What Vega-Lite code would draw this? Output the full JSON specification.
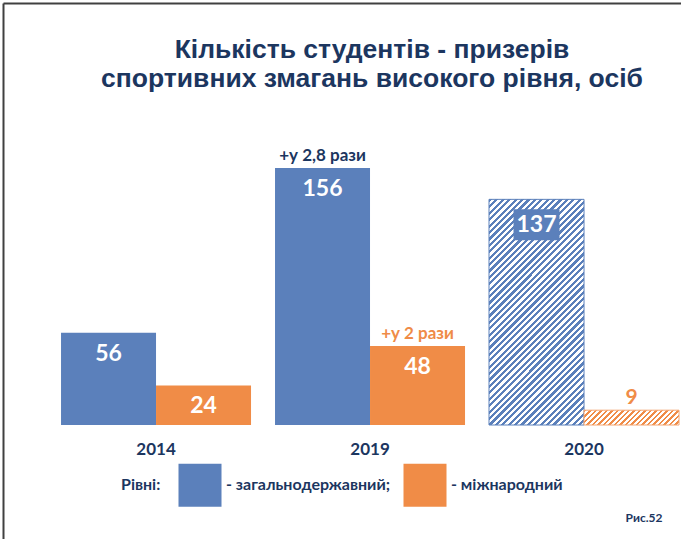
{
  "$schema": "https://vega.github.io/schema/vega-lite/v6.json",
  "width": 678,
  "height": 536,
  "autosize": {"type": "none"},
  "padding": {"left": 3, "top": 3, "right": 0, "bottom": 0},
  "background": "white",
  "config": {"view": {"stroke": null}, "axis": {"grid": false}, "font": "Lato"},
  "title": {
    "text": ["Кількість студентів  - призерів", "спортивних змагань високого рівня, осіб"],
    "font": "Liberation Sans Narrow, Arial Narrow, Liberation Sans",
    "fontSize": 26.5,
    "fontWeight": "bold",
    "color": "#1c365f",
    "anchor": "middle",
    "frame": "group",
    "dx": 30,
    "offset": -89,
    "lineHeight": 29
  },
  "data": {
    "values": [
      {"year": "2014", "level": "загальнодержавний", "value": 56, "note": ""},
      {"year": "2014", "level": "міжнародний", "value": 24, "note": ""},
      {"year": "2019", "level": "загальнодержавний", "value": 156, "note": "+у 2,8 рази"},
      {"year": "2019", "level": "міжнародний", "value": 48, "note": "+у 2 рази"},
      {"year": "2020", "level": "загальнодержавний", "value": 137, "note": ""},
      {"year": "2020", "level": "міжнародний", "value": 9, "note": ""}
    ]
  },
  "resolve": {"axis": {"x": "independent"}},
  "layer": [
    {
      "transform": [{"filter": "datum.year != '2020'"}],
      "mark": {"type": "bar"},
      "encoding": {
        "x": {
          "field": "year", "type": "nominal",
          "scale": {"domain": ["2014", "2019", "2020"], "paddingInner": 0.1121, "paddingOuter": 0.1402, "align": 0.967},
          "axis": {"orient": "top", "labels": false, "ticks": false, "title": null, "domain": true, "domainColor": "#404040", "domainWidth": 2}
        },
        "xOffset": {"field": "level", "type": "nominal"},
        "y": {
          "field": "value", "type": "quantitative",
          "scale": {"domain": [-69.2, 256.2], "nice": false},
          "axis": {"labels": false, "ticks": false, "title": null, "grid": false, "domain": true, "domainColor": "#404040", "domainWidth": 2}
        },
        "color": {
          "field": "level", "type": "nominal",
          "scale": {"domain": ["загальнодержавний", "міжнародний"], "range": ["#5b80bb", "#f08c47"]},
          "legend": {
            "orient": "none", "legendX": 118, "legendY": 460,
            "direction": "horizontal",
            "title": "Рівні:", "titleOrient": "left", "titleFont": "Lato", "titleFontSize": 16,
            "titleFontWeight": "bold", "titleColor": "#1c365f", "titlePadding": 17, "titleBaseline": "middle",
            "symbolType": "square", "symbolSize": 1850, "symbolStrokeWidth": 0, "symbolOpacity": 1,
            "labelFont": "Lato", "labelFontSize": 16, "labelFontWeight": "bold", "labelColor": "#1c365f",
            "labelOffset": 4, "columnPadding": 12, "labelLimit": 300,
            "labelExpr": "datum.value == 'загальнодержавний' ? '- загальнодержавний;' : '- міжнародний'"
          }
        }
      }
    },
    {
      "transform": [{"filter": "datum.year == '2020' && datum.level == 'загальнодержавний'"}],
      "mark": {
        "type": "bar", "stroke": "#5b80bb", "strokeWidth": 1,
        "fill": {
          "gradient": "linear", "x1": 0, "y1": 0, "x2": 0.5083, "y2": 1.207,
          "stops": [
            {"offset": 0, "color": "#5b80bb"},
            {"offset": 0.01, "color": "#5b80bb"}, {"offset": 0.01, "color": "#fff"},
            {"offset": 0.02, "color": "#fff"}, {"offset": 0.02, "color": "#5b80bb"},
            {"offset": 0.03, "color": "#5b80bb"}, {"offset": 0.03, "color": "#fff"},
            {"offset": 0.04, "color": "#fff"}, {"offset": 0.04, "color": "#5b80bb"},
            {"offset": 0.05, "color": "#5b80bb"}, {"offset": 0.05, "color": "#fff"},
            {"offset": 0.06, "color": "#fff"}, {"offset": 0.06, "color": "#5b80bb"},
            {"offset": 0.07, "color": "#5b80bb"}, {"offset": 0.07, "color": "#fff"},
            {"offset": 0.08, "color": "#fff"}, {"offset": 0.08, "color": "#5b80bb"},
            {"offset": 0.09, "color": "#5b80bb"}, {"offset": 0.09, "color": "#fff"},
            {"offset": 0.10, "color": "#fff"}, {"offset": 0.10, "color": "#5b80bb"},
            {"offset": 0.11, "color": "#5b80bb"}, {"offset": 0.11, "color": "#fff"},
            {"offset": 0.12, "color": "#fff"}, {"offset": 0.12, "color": "#5b80bb"},
            {"offset": 0.13, "color": "#5b80bb"}, {"offset": 0.13, "color": "#fff"},
            {"offset": 0.14, "color": "#fff"}, {"offset": 0.14, "color": "#5b80bb"},
            {"offset": 0.15, "color": "#5b80bb"}, {"offset": 0.15, "color": "#fff"},
            {"offset": 0.16, "color": "#fff"}, {"offset": 0.16, "color": "#5b80bb"},
            {"offset": 0.17, "color": "#5b80bb"}, {"offset": 0.17, "color": "#fff"},
            {"offset": 0.18, "color": "#fff"}, {"offset": 0.18, "color": "#5b80bb"},
            {"offset": 0.19, "color": "#5b80bb"}, {"offset": 0.19, "color": "#fff"},
            {"offset": 0.20, "color": "#fff"}, {"offset": 0.20, "color": "#5b80bb"},
            {"offset": 0.21, "color": "#5b80bb"}, {"offset": 0.21, "color": "#fff"},
            {"offset": 0.22, "color": "#fff"}, {"offset": 0.22, "color": "#5b80bb"},
            {"offset": 0.23, "color": "#5b80bb"}, {"offset": 0.23, "color": "#fff"},
            {"offset": 0.24, "color": "#fff"}, {"offset": 0.24, "color": "#5b80bb"},
            {"offset": 0.25, "color": "#5b80bb"}, {"offset": 0.25, "color": "#fff"},
            {"offset": 0.26, "color": "#fff"}, {"offset": 0.26, "color": "#5b80bb"},
            {"offset": 0.27, "color": "#5b80bb"}, {"offset": 0.27, "color": "#fff"},
            {"offset": 0.28, "color": "#fff"}, {"offset": 0.28, "color": "#5b80bb"},
            {"offset": 0.29, "color": "#5b80bb"}, {"offset": 0.29, "color": "#fff"},
            {"offset": 0.30, "color": "#fff"}, {"offset": 0.30, "color": "#5b80bb"},
            {"offset": 0.31, "color": "#5b80bb"}, {"offset": 0.31, "color": "#fff"},
            {"offset": 0.32, "color": "#fff"}, {"offset": 0.32, "color": "#5b80bb"},
            {"offset": 0.33, "color": "#5b80bb"}, {"offset": 0.33, "color": "#fff"},
            {"offset": 0.34, "color": "#fff"}, {"offset": 0.34, "color": "#5b80bb"},
            {"offset": 0.35, "color": "#5b80bb"}, {"offset": 0.35, "color": "#fff"},
            {"offset": 0.36, "color": "#fff"}, {"offset": 0.36, "color": "#5b80bb"},
            {"offset": 0.37, "color": "#5b80bb"}, {"offset": 0.37, "color": "#fff"},
            {"offset": 0.38, "color": "#fff"}, {"offset": 0.38, "color": "#5b80bb"},
            {"offset": 0.39, "color": "#5b80bb"}, {"offset": 0.39, "color": "#fff"},
            {"offset": 0.40, "color": "#fff"}, {"offset": 0.40, "color": "#5b80bb"},
            {"offset": 0.41, "color": "#5b80bb"}, {"offset": 0.41, "color": "#fff"},
            {"offset": 0.42, "color": "#fff"}, {"offset": 0.42, "color": "#5b80bb"},
            {"offset": 0.43, "color": "#5b80bb"}, {"offset": 0.43, "color": "#fff"},
            {"offset": 0.44, "color": "#fff"}, {"offset": 0.44, "color": "#5b80bb"},
            {"offset": 0.45, "color": "#5b80bb"}, {"offset": 0.45, "color": "#fff"},
            {"offset": 0.46, "color": "#fff"}, {"offset": 0.46, "color": "#5b80bb"},
            {"offset": 0.47, "color": "#5b80bb"}, {"offset": 0.47, "color": "#fff"},
            {"offset": 0.48, "color": "#fff"}, {"offset": 0.48, "color": "#5b80bb"},
            {"offset": 0.49, "color": "#5b80bb"}, {"offset": 0.49, "color": "#fff"},
            {"offset": 0.50, "color": "#fff"}, {"offset": 0.50, "color": "#5b80bb"},
            {"offset": 0.51, "color": "#5b80bb"}, {"offset": 0.51, "color": "#fff"},
            {"offset": 0.52, "color": "#fff"}, {"offset": 0.52, "color": "#5b80bb"},
            {"offset": 0.53, "color": "#5b80bb"}, {"offset": 0.53, "color": "#fff"},
            {"offset": 0.54, "color": "#fff"}, {"offset": 0.54, "color": "#5b80bb"},
            {"offset": 0.55, "color": "#5b80bb"}, {"offset": 0.55, "color": "#fff"},
            {"offset": 0.56, "color": "#fff"}, {"offset": 0.56, "color": "#5b80bb"},
            {"offset": 0.57, "color": "#5b80bb"}, {"offset": 0.57, "color": "#fff"},
            {"offset": 0.58, "color": "#fff"}, {"offset": 0.58, "color": "#5b80bb"},
            {"offset": 0.59, "color": "#5b80bb"}, {"offset": 0.59, "color": "#fff"},
            {"offset": 0.60, "color": "#fff"}, {"offset": 0.60, "color": "#5b80bb"},
            {"offset": 0.61, "color": "#5b80bb"}, {"offset": 0.61, "color": "#fff"},
            {"offset": 0.62, "color": "#fff"}, {"offset": 0.62, "color": "#5b80bb"},
            {"offset": 0.63, "color": "#5b80bb"}, {"offset": 0.63, "color": "#fff"},
            {"offset": 0.64, "color": "#fff"}, {"offset": 0.64, "color": "#5b80bb"},
            {"offset": 0.65, "color": "#5b80bb"}, {"offset": 0.65, "color": "#fff"},
            {"offset": 0.66, "color": "#fff"}, {"offset": 0.66, "color": "#5b80bb"},
            {"offset": 0.67, "color": "#5b80bb"}, {"offset": 0.67, "color": "#fff"},
            {"offset": 0.68, "color": "#fff"}, {"offset": 0.68, "color": "#5b80bb"},
            {"offset": 0.69, "color": "#5b80bb"}, {"offset": 0.69, "color": "#fff"},
            {"offset": 0.70, "color": "#fff"}, {"offset": 0.70, "color": "#5b80bb"},
            {"offset": 0.71, "color": "#5b80bb"}, {"offset": 0.71, "color": "#fff"},
            {"offset": 0.72, "color": "#fff"}, {"offset": 0.72, "color": "#5b80bb"},
            {"offset": 0.73, "color": "#5b80bb"}, {"offset": 0.73, "color": "#fff"},
            {"offset": 0.74, "color": "#fff"}, {"offset": 0.74, "color": "#5b80bb"},
            {"offset": 0.75, "color": "#5b80bb"}, {"offset": 0.75, "color": "#fff"},
            {"offset": 0.76, "color": "#fff"}, {"offset": 0.76, "color": "#5b80bb"},
            {"offset": 0.77, "color": "#5b80bb"}, {"offset": 0.77, "color": "#fff"},
            {"offset": 0.78, "color": "#fff"}, {"offset": 0.78, "color": "#5b80bb"},
            {"offset": 0.79, "color": "#5b80bb"}, {"offset": 0.79, "color": "#fff"},
            {"offset": 0.80, "color": "#fff"}, {"offset": 0.80, "color": "#5b80bb"},
            {"offset": 0.81, "color": "#5b80bb"}, {"offset": 0.81, "color": "#fff"},
            {"offset": 0.82, "color": "#fff"}, {"offset": 0.82, "color": "#5b80bb"},
            {"offset": 0.83, "color": "#5b80bb"}, {"offset": 0.83, "color": "#fff"},
            {"offset": 0.84, "color": "#fff"}, {"offset": 0.84, "color": "#5b80bb"},
            {"offset": 0.85, "color": "#5b80bb"}, {"offset": 0.85, "color": "#fff"},
            {"offset": 0.86, "color": "#fff"}, {"offset": 0.86, "color": "#5b80bb"},
            {"offset": 0.87, "color": "#5b80bb"}, {"offset": 0.87, "color": "#fff"},
            {"offset": 0.88, "color": "#fff"}, {"offset": 0.88, "color": "#5b80bb"},
            {"offset": 0.89, "color": "#5b80bb"}, {"offset": 0.89, "color": "#fff"},
            {"offset": 0.90, "color": "#fff"}, {"offset": 0.90, "color": "#5b80bb"},
            {"offset": 0.91, "color": "#5b80bb"}, {"offset": 0.91, "color": "#fff"},
            {"offset": 0.92, "color": "#fff"}, {"offset": 0.92, "color": "#5b80bb"},
            {"offset": 0.93, "color": "#5b80bb"}, {"offset": 0.93, "color": "#fff"},
            {"offset": 0.94, "color": "#fff"}, {"offset": 0.94, "color": "#5b80bb"},
            {"offset": 0.95, "color": "#5b80bb"}, {"offset": 0.95, "color": "#fff"},
            {"offset": 0.96, "color": "#fff"}, {"offset": 0.96, "color": "#5b80bb"},
            {"offset": 0.97, "color": "#5b80bb"}, {"offset": 0.97, "color": "#fff"},
            {"offset": 0.98, "color": "#fff"}, {"offset": 0.98, "color": "#5b80bb"},
            {"offset": 0.99, "color": "#5b80bb"}, {"offset": 0.99, "color": "#fff"},
            {"offset": 1, "color": "#fff"}
          ]
        }
      },
      "encoding": {
        "x": {"field": "year", "type": "nominal", "axis": null},
        "xOffset": {"field": "level", "type": "nominal"},
        "y": {"field": "value", "type": "quantitative"}
      }
    },
    {
      "transform": [{"filter": "datum.year == '2020' && datum.level == 'міжнародний'"}],
      "mark": {
        "type": "bar", "stroke": "#f3a673", "strokeWidth": 1,
        "fill": {
          "gradient": "linear", "x1": 0, "y1": 0, "x2": 1.1284, "y2": 0.1758,
          "stops": [
            {"offset": 0, "color": "#f08c47"},
            {"offset": 0.025, "color": "#f08c47"}, {"offset": 0.025, "color": "#fff"},
            {"offset": 0.05, "color": "#fff"}, {"offset": 0.05, "color": "#f08c47"},
            {"offset": 0.075, "color": "#f08c47"}, {"offset": 0.075, "color": "#fff"},
            {"offset": 0.1, "color": "#fff"}, {"offset": 0.1, "color": "#f08c47"},
            {"offset": 0.125, "color": "#f08c47"}, {"offset": 0.125, "color": "#fff"},
            {"offset": 0.15, "color": "#fff"}, {"offset": 0.15, "color": "#f08c47"},
            {"offset": 0.175, "color": "#f08c47"}, {"offset": 0.175, "color": "#fff"},
            {"offset": 0.2, "color": "#fff"}, {"offset": 0.2, "color": "#f08c47"},
            {"offset": 0.225, "color": "#f08c47"}, {"offset": 0.225, "color": "#fff"},
            {"offset": 0.25, "color": "#fff"}, {"offset": 0.25, "color": "#f08c47"},
            {"offset": 0.275, "color": "#f08c47"}, {"offset": 0.275, "color": "#fff"},
            {"offset": 0.3, "color": "#fff"}, {"offset": 0.3, "color": "#f08c47"},
            {"offset": 0.325, "color": "#f08c47"}, {"offset": 0.325, "color": "#fff"},
            {"offset": 0.35, "color": "#fff"}, {"offset": 0.35, "color": "#f08c47"},
            {"offset": 0.375, "color": "#f08c47"}, {"offset": 0.375, "color": "#fff"},
            {"offset": 0.4, "color": "#fff"}, {"offset": 0.4, "color": "#f08c47"},
            {"offset": 0.425, "color": "#f08c47"}, {"offset": 0.425, "color": "#fff"},
            {"offset": 0.45, "color": "#fff"}, {"offset": 0.45, "color": "#f08c47"},
            {"offset": 0.475, "color": "#f08c47"}, {"offset": 0.475, "color": "#fff"},
            {"offset": 0.5, "color": "#fff"}, {"offset": 0.5, "color": "#f08c47"},
            {"offset": 0.525, "color": "#f08c47"}, {"offset": 0.525, "color": "#fff"},
            {"offset": 0.55, "color": "#fff"}, {"offset": 0.55, "color": "#f08c47"},
            {"offset": 0.575, "color": "#f08c47"}, {"offset": 0.575, "color": "#fff"},
            {"offset": 0.6, "color": "#fff"}, {"offset": 0.6, "color": "#f08c47"},
            {"offset": 0.625, "color": "#f08c47"}, {"offset": 0.625, "color": "#fff"},
            {"offset": 0.65, "color": "#fff"}, {"offset": 0.65, "color": "#f08c47"},
            {"offset": 0.675, "color": "#f08c47"}, {"offset": 0.675, "color": "#fff"},
            {"offset": 0.7, "color": "#fff"}, {"offset": 0.7, "color": "#f08c47"},
            {"offset": 0.725, "color": "#f08c47"}, {"offset": 0.725, "color": "#fff"},
            {"offset": 0.75, "color": "#fff"}, {"offset": 0.75, "color": "#f08c47"},
            {"offset": 0.775, "color": "#f08c47"}, {"offset": 0.775, "color": "#fff"},
            {"offset": 0.8, "color": "#fff"}, {"offset": 0.8, "color": "#f08c47"},
            {"offset": 0.825, "color": "#f08c47"}, {"offset": 0.825, "color": "#fff"},
            {"offset": 0.85, "color": "#fff"}, {"offset": 0.85, "color": "#f08c47"},
            {"offset": 0.875, "color": "#f08c47"}, {"offset": 0.875, "color": "#fff"},
            {"offset": 0.9, "color": "#fff"}, {"offset": 0.9, "color": "#f08c47"},
            {"offset": 0.925, "color": "#f08c47"}, {"offset": 0.925, "color": "#fff"},
            {"offset": 0.95, "color": "#fff"}, {"offset": 0.95, "color": "#f08c47"},
            {"offset": 0.975, "color": "#f08c47"}, {"offset": 0.975, "color": "#fff"},
            {"offset": 1, "color": "#fff"}
          ]
        }
      },
      "encoding": {
        "x": {"field": "year", "type": "nominal", "axis": null},
        "xOffset": {"field": "level", "type": "nominal"},
        "y": {"field": "value", "type": "quantitative"}
      }
    },
    {
      "transform": [{"filter": "datum.year == '2020' && datum.level == 'загальнодержавний'"}],
      "mark": {"type": "point", "shape": "M-1,0.435H1V1.783H-1Z", "size": 2116, "filled": true, "opacity": 1, "color": "#5b80bb", "strokeWidth": 0},
      "encoding": {
        "x": {"field": "year", "type": "nominal", "axis": null},
        "xOffset": {"field": "level", "type": "nominal"},
        "y": {"field": "value", "type": "quantitative"}
      }
    },
    {
      "transform": [{"filter": "datum.year != '2020'"}],
      "mark": {"type": "text", "dy": 21, "baseline": "middle", "align": "center", "color": "white", "font": "Lato", "fontSize": 23, "fontWeight": "bold"},
      "encoding": {
        "x": {
          "field": "year", "type": "nominal",
          "axis": {
            "orient": "bottom", "offset": -101, "domain": false, "ticks": false, "labelPadding": 3,
            "labelAngle": 0, "labelFont": "Lato", "labelFontSize": 17, "labelFontWeight": "bold", "labelColor": "#1c365f",
            "title": "Рис.52", "titleX": 659, "titleY": 79, "titleAlign": "right", "titleBaseline": "middle",
            "titleFont": "Lato", "titleFontSize": 12, "titleFontWeight": "bold", "titleColor": "#1c365f"
          }
        },
        "xOffset": {"field": "level", "type": "nominal"},
        "y": {"field": "value", "type": "quantitative"},
        "text": {"field": "value", "type": "quantitative"}
      }
    },
    {
      "transform": [{"filter": "datum.year == '2020' && datum.level == 'загальнодержавний'"}],
      "mark": {"type": "text", "dy": 25.5, "baseline": "middle", "align": "center", "color": "white", "font": "Lato", "fontSize": 23, "fontWeight": "bold"},
      "encoding": {
        "x": {"field": "year", "type": "nominal", "axis": null},
        "xOffset": {"field": "level", "type": "nominal"},
        "y": {"field": "value", "type": "quantitative"},
        "text": {"field": "value", "type": "quantitative"}
      }
    },
    {
      "transform": [{"filter": "datum.year == '2020' && datum.level == 'міжнародний'"}],
      "mark": {"type": "text", "dy": -12, "baseline": "middle", "align": "center", "color": "#f08c47", "font": "Lato", "fontSize": 21, "fontWeight": "bold"},
      "encoding": {
        "x": {"field": "year", "type": "nominal", "axis": null},
        "xOffset": {"field": "level", "type": "nominal"},
        "y": {"field": "value", "type": "quantitative"},
        "text": {"field": "value", "type": "quantitative"}
      }
    },
    {
      "transform": [{"filter": "datum.note != ''"}],
      "mark": {"type": "text", "dy": -12, "baseline": "middle", "align": "center", "font": "Lato", "fontSize": 17, "fontWeight": "bold"},
      "encoding": {
        "x": {"field": "year", "type": "nominal", "axis": null},
        "xOffset": {"field": "level", "type": "nominal"},
        "y": {"field": "value", "type": "quantitative"},
        "text": {"field": "note", "type": "nominal"},
        "color": {"condition": {"test": "datum.level == 'міжнародний'", "value": "#ef8b47"}, "value": "#1c365f"}
      }
    }
  ]
}
